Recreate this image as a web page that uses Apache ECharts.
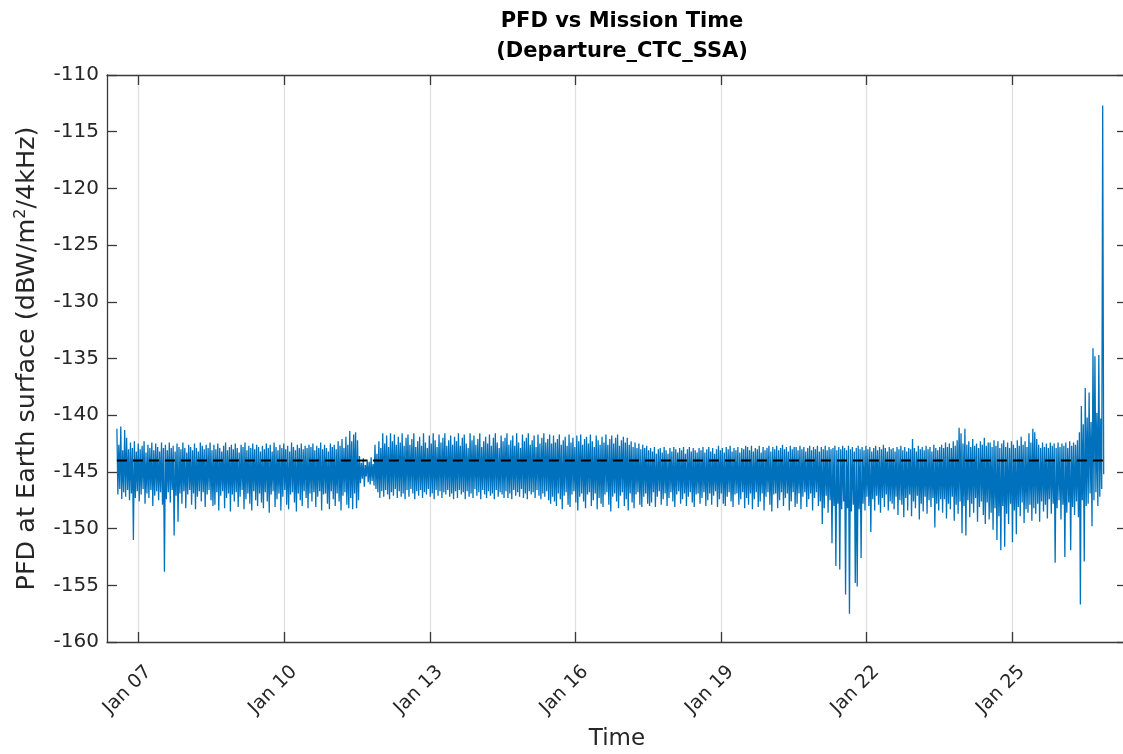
<!DOCTYPE html>
<html><head><meta charset="utf-8">
<script src="https://cdn.jsdelivr.net/npm/echarts@6/dist/echarts.min.js"></script>
<style>html,body{margin:0;padding:0;background:#fff}#c{width:1123px;height:754px}</style>
</head><body><div id="c"></div>
<script>
const titleLines = ['PFD vs Mission Time', '(Departure_CTC_SSA)'];
const xAxisTitle = 'Time';
const yAxisTitle = 'PFD at Earth surface (dBW/m{sup|2}/4kHz)';
const xTickDays = [7, 10, 13, 16, 19, 22, 25];
const xTickLabels = ['Jan 07', 'Jan 10', 'Jan 13', 'Jan 16', 'Jan 19', 'Jan 22', 'Jan 25'];
const xRange = [6.346, 27.371];
const yRange = [-160, -110];
const yTickStep = 5;
const sampleStartDay = 6.55;
const sampleStepDays = 0.02;
const pfdValues = [
-141.2,-147.0,-142.6,-146.5,-141.0,-147.4,-143.1,-146.8,-141.3,-147.2,
-142.0,-146.6,-143.0,-147.5,-142.4,-146.9,-142.9,-151.0,-142.3,-147.3,
-143.2,-146.7,-142.5,-147.6,-143.0,-147.0,-142.7,-146.5,-142.3,-147.8,
-143.3,-146.9,-142.6,-147.3,-142.9,-146.6,-142.4,-148.0,-143.1,-147.1,
-142.5,-146.7,-142.8,-147.5,-143.2,-146.8,-142.4,-147.9,-142.9,-153.8,
-142.6,-147.4,-143.1,-146.8,-142.4,-147.7,-142.9,-146.6,-142.7,-150.6,
-143.2,-147.1,-142.5,-149.4,-142.8,-146.9,-143.0,-147.8,-142.4,-146.7,
-142.9,-148.2,-143.3,-147.0,-142.6,-146.6,-142.8,-147.9,-143.1,-146.9,
-142.5,-148.3,-142.9,-147.2,-143.2,-146.7,-142.4,-147.6,-142.7,-146.8,
-143.0,-148.1,-142.6,-147.0,-142.9,-146.6,-142.4,-147.5,-143.1,-148.0,
-142.6,-147.9,-143.0,-146.8,-142.5,-148.4,-142.9,-147.1,-143.2,-146.7,
-142.7,-148.2,-142.4,-147.3,-143.1,-146.9,-142.8,-148.5,-142.6,-147.0,
-143.0,-147.6,-142.5,-146.8,-142.9,-148.1,-143.3,-147.2,-142.6,-146.6,
-142.8,-148.3,-142.4,-147.4,-143.1,-146.9,-142.7,-147.8,-142.9,-148.4,
-142.5,-146.7,-143.0,-147.5,-142.6,-148.0,-142.8,-146.9,-143.2,-147.7,
-142.7,-148.2,-143.0,-146.8,-142.5,-147.6,-142.9,-148.6,-142.6,-147.0,
-143.2,-146.7,-142.4,-148.1,-142.8,-147.4,-143.1,-146.9,-142.6,-148.4,
-142.9,-147.2,-142.5,-146.6,-143.0,-147.9,-142.7,-148.3,-143.2,-147.0,
-142.4,-146.8,-142.8,-147.7,-143.1,-148.5,-142.6,-146.9,-142.9,-147.5,
-142.5,-148.0,-143.0,-146.7,-142.7,-147.3,-142.9,-148.2,-142.6,-146.9,
-142.8,-147.6,-142.5,-146.8,-143.1,-148.1,-142.7,-147.2,-142.9,-146.7,
-142.4,-148.4,-143.0,-147.0,-142.6,-146.9,-142.9,-147.8,-143.2,-148.3,
-142.5,-146.7,-142.8,-147.4,-142.6,-148.0,-143.0,-146.9,-142.3,-147.6,
-142.7,-148.4,-142.1,-147.1,-142.9,-146.8,-141.9,-147.9,-142.6,-148.2,
-141.4,-147.3,-142.3,-148.3,-141.7,-146.9,-141.5,-148.2,-142.2,-147.5,
-143.6,-146.0,-144.2,-145.6,-143.8,-146.3,-144.4,-145.4,-143.9,-145.9,
-144.1,-146.1,-143.7,-145.8,-144.3,-146.2,-142.6,-146.5,-143.4,-146.8,
-142.3,-147.3,-142.9,-146.7,-141.6,-147.2,-142.5,-146.6,-141.8,-147.0,
-142.8,-147.4,-141.6,-146.8,-142.3,-147.1,-141.7,-146.5,-142.6,-147.3,
-141.9,-146.7,-142.4,-147.2,-141.6,-146.9,-142.7,-147.4,-142.0,-146.6,
-141.7,-147.2,-142.6,-146.5,-142.1,-146.9,-141.6,-147.4,-142.8,-146.7,
-142.3,-147.1,-141.9,-146.6,-142.7,-147.3,-141.6,-146.8,-142.4,-147.0,
-142.9,-146.5,-141.8,-147.2,-142.5,-146.9,-141.6,-147.4,-142.2,-146.6,
-142.8,-147.1,-141.7,-146.7,-142.4,-147.3,-142.0,-146.8,-141.6,-147.0,
-142.7,-146.6,-142.2,-147.2,-141.8,-146.9,-142.6,-147.4,-141.9,-146.7,
-142.3,-147.3,-141.6,-146.6,-142.7,-147.0,-142.0,-146.8,-141.7,-147.4,
-142.5,-146.7,-142.9,-147.2,-141.6,-146.9,-142.2,-147.3,-141.8,-146.5,
-142.6,-147.1,-142.1,-146.8,-141.6,-147.4,-142.8,-146.6,-142.3,-147.0,
-141.9,-147.3,-142.5,-146.7,-141.7,-147.1,-142.7,-146.9,-142.0,-147.4,
-141.6,-146.6,-142.4,-147.2,-142.9,-146.8,-141.8,-147.0,-142.3,-147.3,
-142.0,-146.7,-141.6,-147.3,-142.6,-146.9,-142.2,-147.4,-141.8,-146.6,
-142.7,-147.1,-141.6,-146.8,-142.4,-147.2,-142.9,-146.5,-141.7,-147.3,
-142.3,-146.9,-142.0,-147.4,-141.6,-146.7,-142.6,-147.0,-142.2,-146.8,
-141.8,-147.3,-142.8,-146.6,-141.7,-147.1,-142.5,-147.4,-142.0,-146.9,
-141.6,-147.2,-142.4,-146.7,-142.1,-147.5,-141.7,-147.8,-142.5,-147.2,
-141.8,-147.6,-142.4,-148.0,-142.1,-146.9,-141.7,-147.4,-142.6,-148.3,
-142.2,-147.1,-141.9,-146.8,-142.7,-147.9,-141.7,-148.1,-142.4,-147.0,
-142.0,-146.7,-142.8,-147.7,-141.8,-148.4,-142.3,-147.2,-141.7,-146.9,
-142.6,-147.6,-142.1,-148.2,-141.9,-147.0,-142.5,-146.8,-141.7,-148.0,
-142.3,-147.5,-142.8,-146.9,-141.8,-148.3,-142.2,-147.3,-142.6,-147.8,
-141.9,-148.1,-142.4,-147.0,-141.7,-146.8,-142.6,-147.9,-142.1,-148.5,
-141.8,-147.2,-142.5,-146.9,-142.0,-147.6,-141.7,-148.2,-142.7,-147.1,
-142.2,-146.8,-141.9,-148.0,-142.4,-147.4,-142.0,-148.4,-142.6,-146.9,
-142.3,-147.7,-142.8,-148.2,-142.4,-147.0,-142.9,-146.8,-142.5,-147.9,
-143.0,-148.1,-142.6,-147.2,-142.9,-146.9,-142.7,-147.8,-143.1,-148.0,
-142.9,-147.7,-143.2,-146.8,-142.8,-148.1,-143.4,-147.2,-143.0,-146.7,
-142.9,-147.9,-143.3,-147.4,-142.8,-146.9,-143.1,-148.0,-143.4,-147.3,
-142.9,-146.8,-143.2,-147.6,-142.8,-148.1,-143.0,-147.0,-143.3,-146.7,
-142.9,-147.8,-143.1,-147.4,-142.8,-146.9,-143.4,-148.0,-143.0,-147.2,
-142.8,-146.8,-143.2,-147.7,-142.9,-148.1,-143.1,-147.0,-143.3,-146.9,
-142.9,-147.8,-143.1,-147.3,-142.8,-146.8,-143.3,-148.0,-143.0,-147.5,
-142.8,-146.9,-143.2,-147.9,-142.9,-147.1,-143.4,-146.7,-143.0,-148.1,
-142.7,-147.4,-143.1,-146.9,-142.9,-147.8,-143.3,-148.0,-142.8,-147.2,
-143.0,-146.8,-142.7,-147.6,-143.2,-148.1,-142.9,-147.0,-143.1,-146.9,
-142.8,-147.9,-143.3,-147.4,-142.9,-146.8,-143.0,-148.2,-142.7,-147.3,
-142.8,-147.9,-143.1,-146.9,-142.7,-148.3,-143.2,-147.4,-142.9,-146.8,
-143.0,-148.1,-142.7,-147.6,-143.3,-146.9,-142.8,-148.4,-143.1,-147.2,
-142.9,-146.8,-142.7,-147.9,-143.2,-148.5,-142.8,-147.0,-143.0,-146.9,
-142.7,-148.2,-143.1,-147.5,-142.9,-146.8,-142.6,-148.0,-143.0,-147.3,
-142.8,-146.9,-143.2,-148.4,-142.7,-147.6,-143.0,-146.8,-142.8,-148.1,
-142.8,-147.8,-143.1,-146.9,-142.7,-148.3,-143.0,-147.2,-142.8,-146.8,
-143.2,-148.1,-142.9,-147.4,-142.7,-146.9,-143.1,-148.4,-142.8,-147.3,
-143.0,-146.8,-142.7,-148.0,-143.2,-147.6,-142.8,-149.6,-143.0,-148.2,
-142.7,-147.1,-143.1,-148.6,-142.8,-147.5,-143.0,-151.3,-142.9,-148.0,
-142.7,-153.3,-143.1,-147.8,-142.8,-153.6,-143.0,-148.3,-142.7,-147.6,
-142.9,-155.8,-143.1,-148.2,-142.7,-157.5,-143.0,-148.5,-142.8,-147.9,
-143.2,-154.8,-142.9,-155.1,-142.7,-148.3,-143.0,-152.6,-142.8,-147.8,
-143.1,-148.4,-142.7,-147.2,-143.0,-148.0,-142.8,-150.3,-143.2,-147.4,
-142.9,-148.4,-142.7,-147.1,-143.1,-147.9,-142.8,-148.6,-143.0,-147.3,
-142.6,-148.1,-142.9,-147.0,-143.2,-148.4,-142.8,-147.6,-143.0,-147.8,
-142.9,-148.3,-143.2,-147.2,-142.8,-148.8,-143.0,-147.5,-142.7,-147.9,
-143.1,-149.0,-142.8,-147.3,-143.2,-148.4,-142.9,-147.0,-143.0,-148.9,
-142.1,-147.6,-142.9,-148.2,-143.2,-147.1,-142.7,-149.2,-143.0,-147.8,
-142.8,-148.5,-143.1,-147.2,-142.7,-148.7,-143.0,-147.5,-142.8,-148.1,
-143.2,-147.3,-142.6,-149.9,-142.9,-147.8,-143.1,-148.4,-142.8,-147.4,
-142.6,-148.6,-142.9,-147.4,-142.4,-149.1,-142.8,-147.8,-142.5,-148.3,
-142.9,-147.2,-142.3,-149.3,-142.7,-147.9,-142.2,-148.7,-141.1,-147.6,
-141.6,-150.4,-142.5,-148.0,-141.2,-150.6,-142.6,-147.5,-142.3,-149.0,
-142.8,-147.8,-142.1,-148.6,-142.7,-147.3,-142.5,-149.4,-142.9,-148.1,
-142.3,-147.6,-142.6,-148.8,-142.0,-149.6,-142.7,-147.7,-142.4,-149.2,
-142.4,-148.6,-142.8,-150.1,-142.2,-148.2,-142.7,-151.0,-142.3,-148.9,
-142.9,-151.9,-142.5,-148.0,-142.2,-151.6,-142.8,-148.7,-142.4,-149.6,
-142.9,-147.8,-142.3,-151.2,-142.6,-148.4,-142.9,-150.5,-142.2,-148.1,
-142.7,-148.9,-141.9,-147.7,-142.6,-149.5,-142.3,-148.3,-142.8,-148.6,
-141.6,-147.9,-142.4,-149.3,-141.2,-148.2,-141.5,-148.7,-142.1,-147.8,
-142.6,-149.4,-142.9,-147.6,-142.4,-148.5,-142.8,-147.9,-142.5,-149.1,
-142.9,-147.4,-142.4,-148.7,-142.7,-147.8,-142.5,-153.0,-142.9,-148.2,
-142.4,-147.5,-142.8,-149.2,-142.5,-147.9,-142.7,-152.5,-142.4,-148.6,
-142.9,-147.7,-142.3,-151.9,-142.7,-148.1,-142.4,-148.8,-142.6,-147.6,
-142.2,-149.0,-141.5,-156.7,-139.2,-147.5,-140.8,-152.9,-137.6,-148.0,
-140.2,-147.8,-138.0,-146.9,-140.6,-149.8,-134.1,-147.5,-134.8,-146.8,
-139.8,-148.0,-134.7,-147.2,-140.3,-146.5,-112.7,-145.2
];
const thresholdValue = -144;
const thresholdSpan = [6.55, 26.88];

const FONT = 'DejaVu Sans, Verdana, sans-serif';
const TXT = '#262626';
const AX = '#3a3a3a';

const lineData = pfdValues.map((v, i) => [sampleStartDay + i * sampleStepDays, v]);
const thresholdData = thresholdSpan.map(d => [d, thresholdValue]);

const chart = echarts.init(document.getElementById('c'), null, {renderer: 'canvas'});
const axisLineStyle = {color: AX, width: 1.3};
chart.setOption({
  animation: false,
  backgroundColor: '#fff',
  title: {
    text: titleLines.join('\n'),
    left: 617, top: 2, textAlign: 'center',
    textStyle: {fontFamily: FONT, fontSize: 21, fontWeight: 'bold', color: '#000', lineHeight: 30}
  },
  grid: {left: 107, right: -4, top: 75, bottom: 112, containLabel: false, outerBoundsMode: 'none'},
  xAxis: [{
    type: 'value', position: 'bottom', min: xRange[0], max: xRange[1],
    axisLine: {show: true, onZero: false, lineStyle: axisLineStyle},
    axisTick: {show: true, inside: true, length: 10, customValues: xTickDays, lineStyle: axisLineStyle},
    axisLabel: {
      customValues: xTickDays, rotate: 45, margin: 17, verticalAlign: 'top', lineHeight: 28,
      fontFamily: FONT, fontSize: 19, color: TXT,
      formatter: v => xTickLabels[xTickDays.indexOf(v)]
    },
    splitLine: {show: true, lineStyle: {color: '#e0e0e0', width: 1.3}},
    name: xAxisTitle, nameLocation: 'middle', nameGap: 82,
    nameTextStyle: {fontFamily: FONT, fontSize: 23, color: TXT, verticalAlign: 'top'}
  }, {
    type: 'value', position: 'top', min: xRange[0], max: xRange[1],
    axisLine: {show: true, onZero: false, lineStyle: axisLineStyle},
    axisTick: {show: true, inside: true, length: 10, customValues: xTickDays, lineStyle: axisLineStyle},
    axisLabel: {show: false, customValues: xTickDays},
    splitLine: {show: false}
  }],
  yAxis: [{
    type: 'value', position: 'left', min: yRange[0], max: yRange[1], interval: yTickStep,
    axisLine: {show: true, onZero: false, lineStyle: axisLineStyle},
    axisTick: {show: true, inside: true, length: 10, lineStyle: axisLineStyle},
    axisLabel: {fontFamily: FONT, fontSize: 20, color: TXT, margin: 8},
    splitLine: {show: false},
    name: yAxisTitle, nameLocation: 'middle', nameGap: 52, nameRotate: 90,
    nameTextStyle: {
      fontFamily: FONT, fontSize: 25.5, color: TXT, lineHeight: 30,
      rich: {sup: {fontFamily: FONT, fontSize: 16, color: TXT, verticalAlign: 'top', lineHeight: 17}}
    }
  }, {
    type: 'value', position: 'right', min: yRange[0], max: yRange[1], interval: yTickStep,
    axisLine: {show: true, onZero: false, lineStyle: axisLineStyle},
    axisTick: {show: true, inside: true, length: 10, lineStyle: axisLineStyle},
    axisLabel: {show: false},
    splitLine: {show: false}
  }],
  series: [{
    type: 'line', xAxisIndex: 0, yAxisIndex: 0, data: lineData,
    showSymbol: false, symbol: 'none', sampling: null,
    lineStyle: {color: '#0072BD', width: 1.3}, z: 3
  }, {
    type: 'line', xAxisIndex: 0, yAxisIndex: 0, data: thresholdData,
    showSymbol: false, symbol: 'none',
    lineStyle: {color: '#000', width: 2, type: [10, 6]}, z: 4
  }]
});
</script>
</body></html>
